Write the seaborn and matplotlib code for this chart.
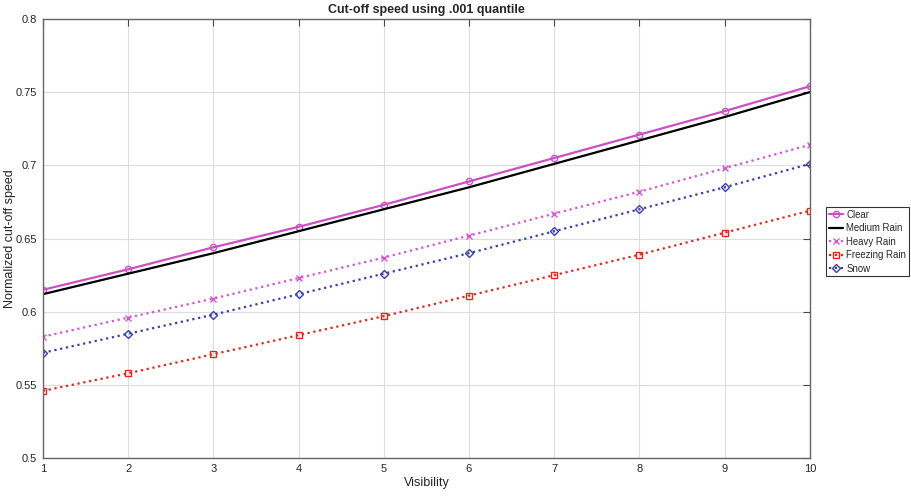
import numpy as np
import pandas as pd
import matplotlib
matplotlib.use("Agg")
import matplotlib.pyplot as plt
import seaborn as sns

# Werte
visibility = [1, 2, 3, 4, 5, 6, 7, 8, 9, 10]
clear = [0.615, 0.629, 0.644, 0.658, 0.673, 0.689, 0.705, 0.721, 0.737, 0.754]
medium_rain = [0.612, 0.626, 0.640, 0.655, 0.670, 0.685, 0.701, 0.717, 0.733, 0.750]
heavy_rain = [0.583, 0.596, 0.609, 0.623, 0.637, 0.652, 0.667, 0.682, 0.698, 0.714]
freezing_rain = [0.546, 0.558, 0.571, 0.584, 0.597, 0.611, 0.625, 0.639, 0.654, 0.669]
snow = [0.572, 0.585, 0.598, 0.612, 0.626, 0.640, 0.655, 0.670, 0.685, 0.701]

sns.set_style("white")
plt.rcParams['font.family'] = ['Liberation Sans', 'DejaVu Sans']

fig = plt.figure(figsize=(9.12, 4.97), dpi=100)
ax = fig.add_axes([0.047, 0.078, 0.841, 0.884])

# name, werte, farbe, linienstil, marker, linienbreite
serien = [
    ('Clear', clear, '#CC4FC4', '-', 'o', 1.6),
    ('Medium Rain', medium_rain, 'black', '-', None, 1.6),
    ('Heavy Rain', heavy_rain, '#D455D4', ':', 'x', 1.6),
    ('Freezing Rain', freezing_rain, '#E8241C', ':', 's', 1.6),
    ('Snow', snow, '#3C3CB4', ':', 'D', 1.6),
]

for name, werte, farbe, ls, mk, lw in serien:
    df = pd.DataFrame({'Visibility': visibility, 'speed': werte})
    sns.lineplot(data=df, x='Visibility', y='speed', ax=ax, color=farbe,
                 linestyle=ls, linewidth=lw, marker=mk, markersize=4.5 if mk != 'D' else 3.8,
                 markerfacecolor='none', markeredgecolor=farbe, markeredgewidth=1.0,
                 label=name)

ax.set_xlim(1, 10)
ax.set_ylim(0.5, 0.8)
ax.set_xticks(visibility)
ax.set_yticks([0.5, 0.55, 0.6, 0.65, 0.7, 0.75, 0.8])
ax.set_yticklabels(['0.5', '0.55', '0.6', '0.65', '0.7', '0.75', '0.8'])
ax.grid(True, color='#DDDDDD', linewidth=0.8)
ax.tick_params(direction='in', top=True, right=True, length=5, labelsize=8, color='#444444', pad=4)
for s in ax.spines.values():
    s.set_color('#666666')
    s.set_linewidth(1.0)

ax.set_title('Cut-off speed using .001 quantile', fontsize=9, fontweight='bold', pad=4)
ax.set_xlabel('Visibility', fontsize=9, labelpad=2)
ax.set_ylabel('Normalized cut-off speed', fontsize=9)
ax.yaxis.set_label_coords(-0.035, 0.5)

leg = ax.legend(loc='upper left', bbox_to_anchor=(1.021, 0.572), fontsize=6.9,
                frameon=True, fancybox=False, edgecolor='black', borderpad=0.3,
                handlelength=1.5, handletextpad=0.3, labelspacing=0.36, borderaxespad=0)
leg.get_frame().set_linewidth(0.8)

fig.savefig('out.png', dpi=100)
